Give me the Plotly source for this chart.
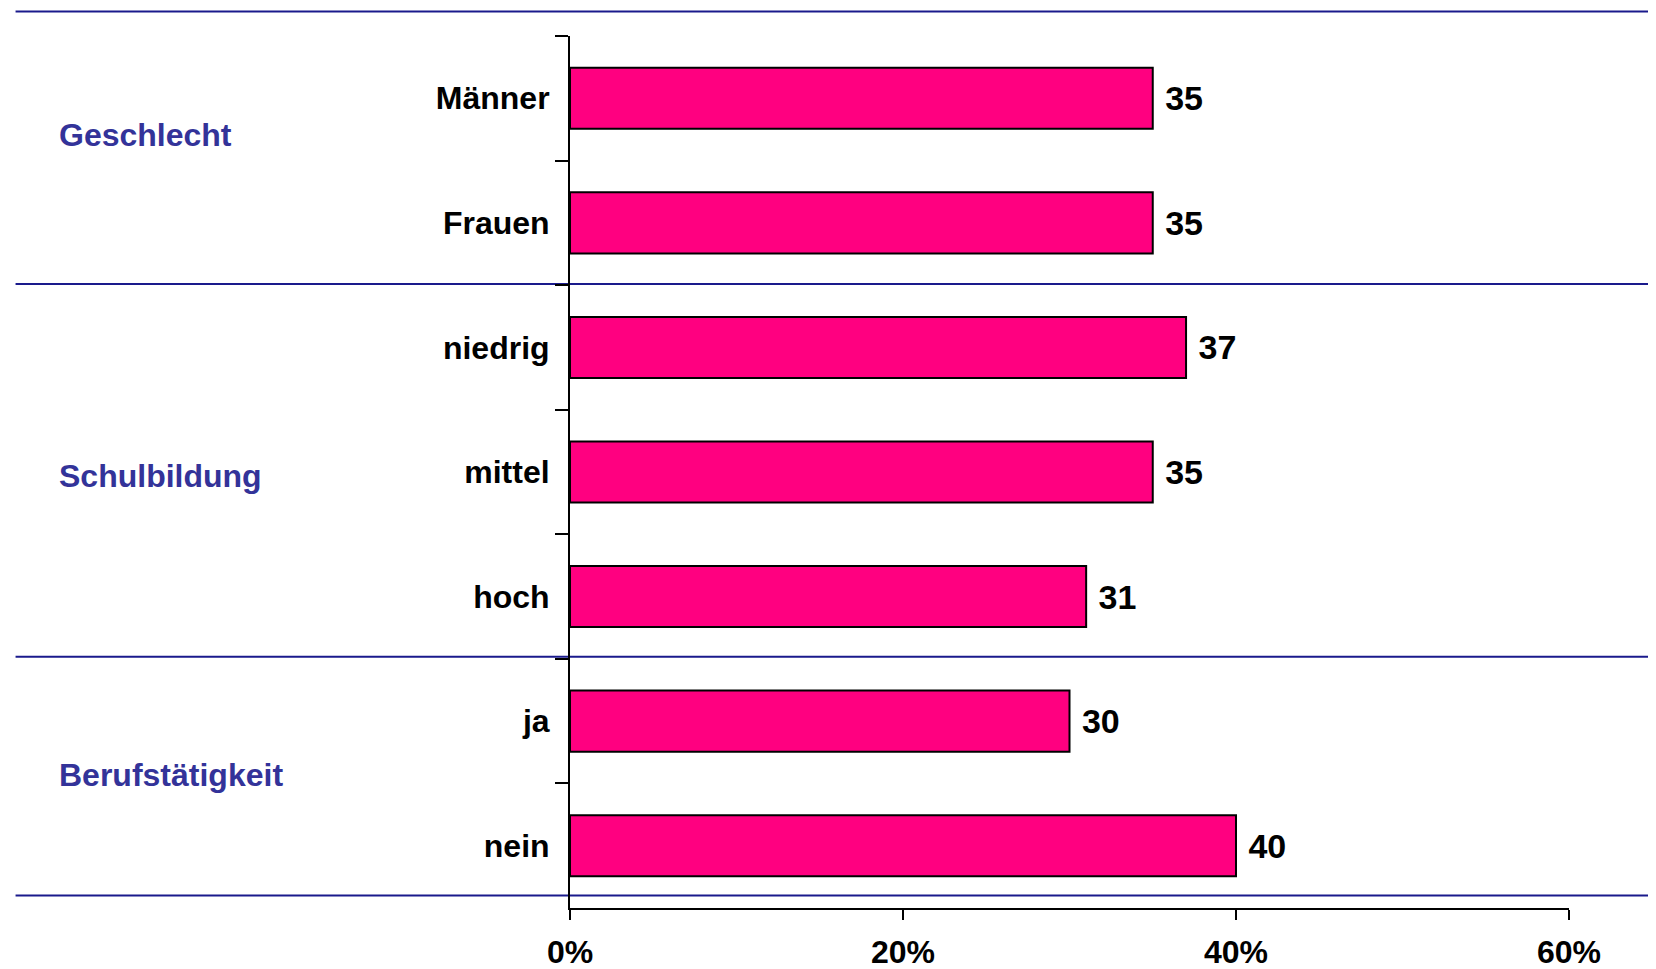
import plotly.graph_objects as go

categories = ["Männer", "Frauen", "niedrig", "mittel", "hoch", "ja", "nein"]
values = [35, 35, 37, 35, 31, 30, 40]
groups = ["Geschlecht", "Schulbildung", "Berufstätigkeit"]
group_pos = [0.8865, 0.4954, 0.1525]
x_ticks = [0, 20, 40, 60]
x_ticktext = ["0%", "20%", "40%", "60%"]
separator_pos = [1.028, 0.7156, 0.288, 0.0142]

FONT = "Liberation Sans, Arial, sans-serif"
PINK = "#FF0080"
NAVY = "#1A1A8C"
GROUPCOL = "#333399"

fig = go.Figure()
fig.add_trace(go.Bar(
    y=categories, x=values, orientation="h",
    marker=dict(color=PINK, line=dict(color="black", width=2)),
    text=[str(v) for v in values],
    texttemplate=" %{text}",
    textposition="outside",
    textfont=dict(family=FONT, size=34, color="black", weight="bold"),
    cliponaxis=False,
))

shapes = []
for yp in separator_pos:
    shapes.append(dict(type="line", xref="paper", yref="paper",
                       x0=-0.555, x1=1.1, y0=yp, y1=yp,
                       line=dict(color=NAVY, width=2), layer="below"))

annotations = []
for g, yp in zip(groups, group_pos):
    annotations.append(dict(text=g, xref="paper", yref="paper", x=-0.5135, y=yp,
                            xanchor="left", yanchor="middle", showarrow=False,
                            font=dict(family=FONT, size=32, color=GROUPCOL, weight="bold")))

fig.update_layout(
    width=1648, height=961,
    margin=dict(l=562, r=87, t=28, b=61, autoexpand=False),
    paper_bgcolor="white", plot_bgcolor="white",
    showlegend=False,
    bargap=0.51,
    shapes=shapes,
    annotations=annotations,
    xaxis=dict(range=[0, 60], tickvals=x_ticks, ticktext=x_ticktext, automargin=False,
               showgrid=False, zeroline=False, showline=True, linecolor="black", linewidth=2,
               ticks="outside", ticklen=10, tickwidth=2, tickcolor="black",
               ticklabelstandoff=5,
               tickfont=dict(family=FONT, size=32, color="black", weight="bold")),
    yaxis=dict(type="category", categoryorder="array", categoryarray=categories,
               autorange="reversed", tickson="boundaries", automargin=False,
               showgrid=False, zeroline=False, showline=True, linecolor="black", linewidth=2,
               ticks="outside", ticklen=13, tickwidth=2, tickcolor="black",
               ticklabelstandoff=12,
               tickfont=dict(family=FONT, size=32, color="black", weight="bold")),
)

fig.write_html("out.html")
